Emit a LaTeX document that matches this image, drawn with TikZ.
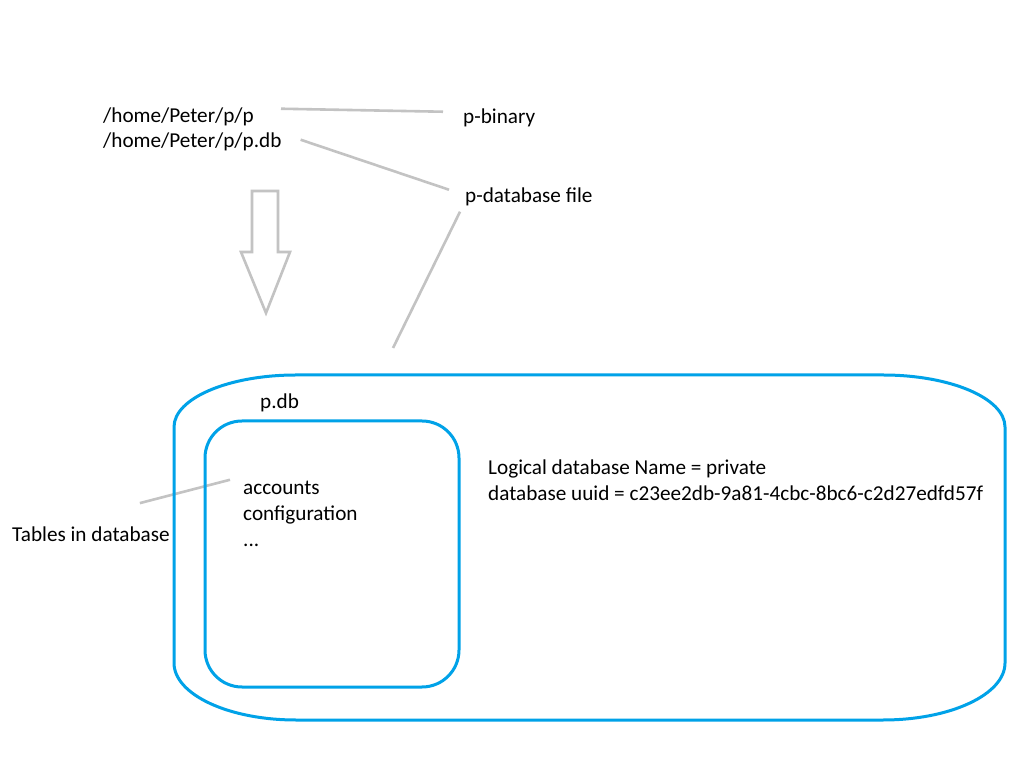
\documentclass[tikz,border=0pt]{standalone}
\usepackage{fontspec}
\setmainfont{Carlito}
\definecolor{boxblue}{HTML}{00A2E8}
\definecolor{linegray}{HTML}{C3C3C3}
\begin{document}
\begin{tikzpicture}[x=1pt,y=1pt,
  lbl/.style={inner sep=0pt,anchor=mid west,font=\fontsize{21.2}{25}\selectfont},
  grayline/.style={draw=linegray,line width=2.6pt},
  blueline/.style={draw=boxblue,line width=3pt}]
\useasboundingbox[fill=white] (0,0) rectangle (1024,768);
% texts
\node[lbl] (path1) at (103,768-120) {/home/Peter/p/p};
\node[lbl] (path2) at (103,768-145) {/home/Peter/p/p.db};
\node[lbl] (binary) at (463,768-121) {p-binary};
\node[lbl] (dbfile) at (465,768-200) {p-database file};
\node[lbl] (pdb) at (260,768-406) {p.db};
\node[lbl] (acc) at (243,768-492) {accounts};
\node[lbl] (conf) at (243,768-518) {configuration};
\node[lbl] (dots) at (243,768-544) {...};
\node[lbl] (logical) at (488,768-472) {Logical database Name = private};
\node[lbl] (uuid) at (488,768-498) {database uuid = c23ee2db-9a81-4cbc-8bc6-c2d27edfd57f};
\node[lbl] (tables) at (12,768-539) {Tables in database};
\coordinate (dbend) at (393,768-348);
% connectors
\draw[grayline] ([xshift=27pt,yshift=8pt]path1.east) -- ([xshift=-20pt,yshift=6pt]binary.west);
\draw[grayline] ([xshift=19pt,yshift=2pt]path2.east) -- ([xshift=-16pt,yshift=7pt]dbfile.west);
\draw[grayline] ([xshift=-5pt,yshift=-15pt]dbfile.west) -- (dbend);
\draw[grayline] ([xshift=-30pt,yshift=31pt]tables.east) -- ([xshift=-13pt,yshift=8pt]acc.west);
% block arrow
\draw[grayline,line join=miter] (252,768-191) -- (278,768-191) -- (278,768-252) -- (290,768-252)
  -- (266,768-313) -- (241,768-252) -- (252,768-252) -- cycle;
% outer box
\draw[blueline] (174,48+57) -- (174,393-52)
  arc[start angle=180,end angle=90,x radius=122,y radius=52] -- (1005-122,393)
  arc[start angle=90,end angle=0,x radius=122,y radius=52] -- (1005,48+57)
  arc[start angle=0,end angle=-90,x radius=122,y radius=57] -- (174+122,48)
  arc[start angle=270,end angle=180,x radius=122,y radius=57] -- cycle;
% inner box
\draw[blueline,rounded corners=37pt] (205,768-687) rectangle (459,768-421);
\end{tikzpicture}
\end{document}
